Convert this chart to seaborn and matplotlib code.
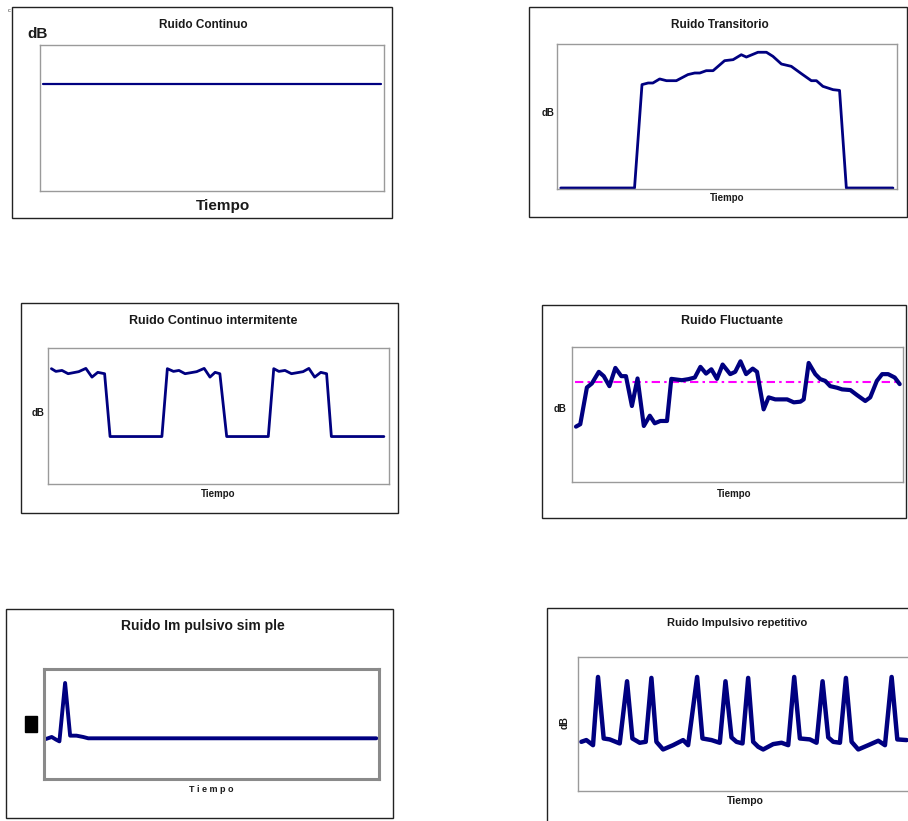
import numpy as np
import pandas as pd
import seaborn as sns
import matplotlib.pyplot as plt
from matplotlib.patches import Rectangle

# --- data (time in % of window, level in % of axis) ---
cont_t = [1, 25, 50, 75, 99]
cont_db = [73, 73, 73, 73, 73]

trans_t = [1.1, 22.8, 25.0, 26.8, 28.2, 30.2, 32.2, 35.1, 38.5, 40.5, 42.0,
           43.9, 45.9, 49.3, 51.8, 54.2, 55.7, 59.1, 61.6, 63.5, 66.0, 68.9,
           71.9, 74.8, 76.3, 78.2, 81.2, 83.1, 85.1, 98.8]
trans_db = [0.7, 0.7, 72.0, 73.1, 73.1, 75.9, 74.7, 74.7, 78.9, 80.0, 80.0,
            81.6, 81.6, 88.5, 89.2, 92.6, 91.0, 94.3, 94.3, 91.5, 86.2, 84.6,
            79.5, 74.7, 74.7, 70.8, 68.5, 68.0, 0.7, 0.7]

inter_t = [1.0, 2.3, 4.1, 5.9, 9.0, 11.1, 12.9, 14.6, 16.6, 18.2, 33.4,
           35.0, 36.8, 38.4, 40.2, 43.6, 45.8, 47.5, 49.0, 50.4, 52.4, 64.6,
           66.2, 67.7, 69.5, 71.4, 74.8, 76.5, 78.2, 80.0, 81.7, 83.1, 98.5]
inter_db = [84.8, 82.8, 83.5, 81.1, 82.6, 85.0, 78.6, 82.1, 81.1, 34.9, 34.9,
            84.8, 82.8, 83.5, 81.1, 82.6, 85.0, 78.6, 82.1, 81.1, 34.9, 34.9,
            84.8, 82.8, 83.5, 81.1, 82.6, 85.0, 78.6, 82.1, 81.1, 34.9, 34.9]

fluct_t = [1.2, 2.5, 4.5, 6.0, 8.1, 9.6, 11.3, 13.1, 14.9, 16.3, 18.1, 19.8,
           21.7, 23.5, 25.0, 26.7, 28.7, 30.0, 33.2, 35.2, 37.1, 38.8, 40.5,
           42.1, 43.8, 45.5, 47.8, 49.3, 50.9, 52.6, 54.6, 55.9, 57.9, 59.4,
           61.4, 65.0, 67.0, 69.0, 70.0, 71.5, 73.5, 75.0, 76.5, 78.0, 80.1,
           81.6, 84.1, 86.1, 88.6, 90.1, 92.1, 93.7, 95.5, 97.5, 99.0]
fluct_db = [41.0, 42.8, 70.0, 73.0, 81.6, 78.4, 71.0, 84.5, 78.4, 78.4, 56.3,
            76.7, 41.5, 49.1, 43.5, 45.2, 45.2, 76.4, 75.4, 76.2, 77.4, 85.3,
            80.3, 83.5, 76.4, 87.0, 79.9, 81.6, 89.4, 79.9, 84.0, 81.6, 53.8,
            62.7, 61.2, 61.2, 59.0, 59.5, 61.2, 88.2, 79.9, 76.2, 74.9, 71.0,
            69.8, 68.6, 68.1, 64.4, 60.0, 62.7, 74.9, 79.9, 79.9, 77.4, 72.5]
fluct_mean_t = [0.8, 99.2]
fluct_mean_db = [74.4, 74.4]

simple_t = [0.6, 2.3, 3.6, 4.6, 6.3, 7.8, 9.7, 11.7, 13.2, 99.2]
simple_db = [36.4, 38.2, 35.8, 34.2, 87.3, 39.4, 39.4, 38.2, 37.0, 37.0]

rep_t = [1.0, 2.5, 4.5, 6.0, 7.7, 9.5, 12.5, 14.7, 16.3, 18.5, 20.3, 22.0,
         23.5, 25.5, 28.5, 31.5, 33.0, 35.7, 37.3, 40.0, 42.5, 44.2, 46.0,
         47.5, 49.3, 51.0, 52.5, 54.0, 55.5, 58.5, 61.0, 63.0, 64.8, 66.5,
         69.5, 71.5, 73.3, 75.0, 76.5, 78.5, 80.3, 82.0, 84.0, 87.0, 90.0,
         92.0, 94.0, 95.7, 98.5]
rep_db = [36.7, 38.0, 34.2, 85.1, 39.2, 38.5, 35.5, 81.9, 39.2, 36.0, 36.7,
          84.4, 36.7, 31.0, 34.2, 38.0, 34.2, 85.1, 39.2, 38.0, 36.0, 81.9,
          40.0, 36.7, 35.5, 84.4, 36.7, 33.0, 31.0, 35.0, 36.0, 34.2, 85.1,
          39.2, 38.5, 36.0, 81.9, 40.0, 36.7, 36.0, 84.4, 36.7, 31.0, 34.2,
          37.5, 34.2, 85.1, 38.5, 38.0]

W, H = 908, 821
NAVY = "#000080"

sns.set_style("white")
plt.rcParams["font.family"] = ["Liberation Sans", "DejaVu Sans"]

fig = plt.figure(figsize=(W / 100, H / 100), dpi=100)


def fx(x):
    return x / W


def fy(y):
    return 1 - y / H


def box(x0, y0, x1, y1, lw=1.0, color="#222222"):
    fig.add_artist(Rectangle((fx(x0), fy(y1)), fx(x1 - x0), (y1 - y0) / H,
                             transform=fig.transFigure, fill=False,
                             lw=lw, edgecolor=color))


def txt(x, y, s, size, **kw):
    fig.text(fx(x), fy(y), s, fontsize=size, fontweight="bold",
             ha="center", va="center", color="#1a1a1a", **kw)


def panel_ax(x0, y0, x1, y1, xmax=100, spine_lw=1.0, spine_col="#9a9a9a"):
    ax = fig.add_axes([fx(x0), fy(y1), fx(x1 - x0), (y1 - y0) / H])
    ax.set_xlim(0, xmax)
    ax.set_ylim(0, 100)
    ax.set_xticks([])
    ax.set_yticks([])
    for s in ax.spines.values():
        s.set_color(spine_col)
        s.set_linewidth(spine_lw)
    return ax


def draw(ax, t, db, lw):
    d = pd.DataFrame({"tiempo": t, "db": db})
    sns.lineplot(data=d, x="tiempo", y="db", ax=ax, color=NAVY, lw=lw,
                 sort=False, estimator=None, legend=False,
                 solid_joinstyle="round", solid_capstyle="round")
    ax.set_xlabel("")
    ax.set_ylabel("")


# 1 - Ruido Continuo
box(12, 7, 392, 218)
txt(203, 25, "Ruido Continuo", 8.5)
txt(38, 34, "dB", 11)
txt(223, 206, "Tiempo", 11)
fig.text(fx(8), fy(10), "c", fontsize=4, color="#333333", va="center")
ax1 = panel_ax(40, 45, 384, 191)
draw(ax1, cont_t, cont_db, 1.6)

# 2 - Ruido Transitorio
box(529, 7, 907, 217)
txt(720, 25, "Ruido Transitorio", 8.5)
txt(548, 113, "dB", 7)
txt(727, 198, "Tiempo", 7)
ax2 = panel_ax(557, 44, 897, 189)
draw(ax2, trans_t, trans_db, 2.0)

# 3 - Ruido Continuo intermitente
box(21, 303, 398, 513)
txt(213, 321, "Ruido Continuo intermitente", 9)
txt(38, 413, "dB", 7)
txt(218, 494, "Tiempo", 7)
ax3 = panel_ax(48, 348, 389, 484)
draw(ax3, inter_t, inter_db, 2.0)

# 4 - Ruido Fluctuante
box(542, 305, 906, 518)
txt(732, 321, "Ruido Fluctuante", 9)
txt(560, 409, "dB", 7)
txt(734, 494, "Tiempo", 7)
ax4 = panel_ax(572, 347, 903, 482)
ax4.plot(fluct_mean_t, fluct_mean_db, color="#ff00ff", lw=1.5,
         dashes=(4, 2, 1.2, 2))
draw(ax4, fluct_t, fluct_db, 3.0)

# 5 - Ruido Impulsivo simple
box(6, 609, 393, 818)
txt(203, 626, "Ruido Im pulsivo sim ple", 10)
fig.add_artist(Rectangle((fx(25), fy(732)), fx(12), 16 / H,
                         transform=fig.transFigure, color="black"))
txt(211, 789, "T i e m p o", 6.5)
ax5 = panel_ax(44, 669, 379, 779, spine_lw=2.2, spine_col="#8a8a8a")
draw(ax5, simple_t, simple_db, 2.8)

# 6 - Ruido Impulsivo repetitivo
box(547, 608, 930, 840)
txt(737, 623, "Ruido Impulsivo repetitivo", 8)
txt(565, 723, "dB", 7, rotation=90)
txt(745, 801, "Tiempo", 7.5)
ax6 = panel_ax(578, 657, 920, 791, xmax=102.5)
draw(ax6, rep_t, rep_db, 3.2)

fig.savefig("out.png", dpi=100, facecolor="white")
